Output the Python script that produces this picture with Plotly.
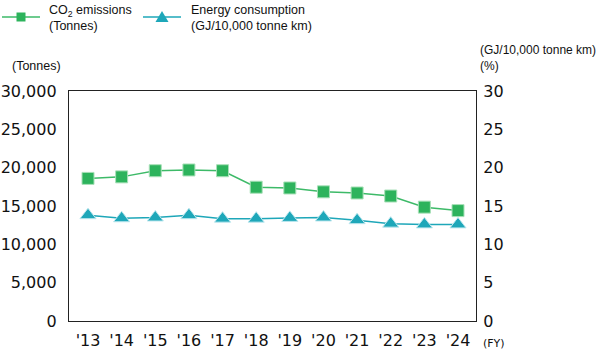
import plotly.graph_objects as go

years = ["'13", "'14", "'15", "'16", "'17", "'18", "'19", "'20", "'21", "'22", "'23", "'24"]
co2 = [18600, 18800, 19600, 19700, 19600, 17450, 17350, 16850, 16700, 16300, 14850, 14400]
energy = [13.8, 13.4, 13.5, 13.8, 13.35, 13.35, 13.45, 13.5, 13.15, 12.7, 12.6, 12.6]
left_ticks = [0, 5000, 10000, 15000, 20000, 25000, 30000]
right_ticks = [0, 5, 10, 15, 20, 25, 30]

GREEN = "#2db35c"
TEAL = "#1ea7b9"
TICKFONT = dict(family="DejaVu Sans", size=16, color="#111")
LABFONT = dict(family="Liberation Sans", size=12.5, color="#111")

W, H = 600, 350
ML, MR, MT, MB = 69, 124, 91, 29
PW, PH = W - ML - MR, H - MT - MB


def px(x):
    return (x - ML) / PW


def py(y):
    return (H - MB - y) / PH


xs = list(range(len(years)))
fig = go.Figure()
fig.add_trace(go.Scatter(
    x=xs, y=co2, name="CO2 emissions", mode="lines+markers",
    line=dict(color="#3dba68", width=1.5),
    marker=dict(symbol="square", size=12, color=GREEN, line=dict(color="#a8e0b8", width=1)),
    yaxis="y"))
fig.add_trace(go.Scatter(
    x=xs, y=energy, name="Energy consumption", mode="lines+markers",
    line=dict(color=TEAL, width=1.5),
    marker=dict(symbol="triangle-up", size=14, color=TEAL, line=dict(color="#bfe8ef", width=1)),
    yaxis="y2"))

shapes = [
    dict(type="line", xref="paper", yref="paper", x0=px(2), x1=px(40), y0=py(17), y1=py(17),
         line=dict(color="#3dba68", width=1.5)),
    dict(type="rect", xref="paper", yref="paper", x0=px(16.5), x1=px(25.5), y0=py(21.5), y1=py(12.5),
         fillcolor=GREEN, line=dict(width=0)),
    dict(type="line", xref="paper", yref="paper", x0=px(143), x1=px(181), y0=py(17), y1=py(17),
         line=dict(color=TEAL, width=1.5)),
    dict(type="path", xref="paper", yref="paper",
         path=f"M {px(155.5)} {py(22)} L {px(168.5)} {py(22)} L {px(162)} {py(11)} Z",
         fillcolor=TEAL, line=dict(width=0)),
]

ann = [
    dict(text="CO<sub>2</sub> emissions<br>(Tonnes)", x=px(47), y=py(1), xanchor="left", yanchor="top",
         align="left", font=LABFONT),
    dict(text="Energy consumption<br>(GJ/10,000 tonne km)", x=px(189), y=py(1), xanchor="left", yanchor="top",
         align="left", font=LABFONT),
    dict(text="(Tonnes)", x=px(10), y=py(66), xanchor="left", yanchor="middle", font=LABFONT),
    dict(text="(GJ/10,000 tonne km)<br>(%)", x=px(478), y=py(58), xanchor="left", yanchor="middle",
         align="left", font=dict(family="Liberation Sans", size=12, color="#111")),
    dict(text="(FY)", x=px(481), y=py(343), xanchor="left", yanchor="middle",
         font=dict(family="DejaVu Sans", size=11, color="#111")),
]
for a in ann:
    a.update(xref="paper", yref="paper", showarrow=False)

fig.update_layout(
    width=W, height=H,
    margin=dict(l=ML, r=MR, t=MT, b=MB),
    plot_bgcolor="white", paper_bgcolor="white",
    showlegend=False,
    xaxis=dict(tickmode="array", tickvals=xs, ticktext=years,
               range=[-0.565, 11.535], showgrid=False, zeroline=False, automargin=False,
               showline=True, linecolor="#222", linewidth=1.3, mirror=True,
               ticks="", tickfont=TICKFONT, ticklabelstandoff=5),
    yaxis=dict(range=[0, 30000], tickvals=left_ticks, tickformat=",d", automargin=False,
               showgrid=False, zeroline=False, showline=True, linecolor="#222", linewidth=1.3,
               ticks="", tickfont=TICKFONT, ticklabelstandoff=8),
    yaxis2=dict(range=[0, 30], tickvals=right_ticks, overlaying="y", side="right", automargin=False,
                showgrid=False, zeroline=False, showline=True, linecolor="#222", linewidth=1.3,
                ticks="", tickfont=TICKFONT, ticklabelstandoff=3),
    shapes=shapes,
    annotations=ann,
)
fig.write_html("out.html")
